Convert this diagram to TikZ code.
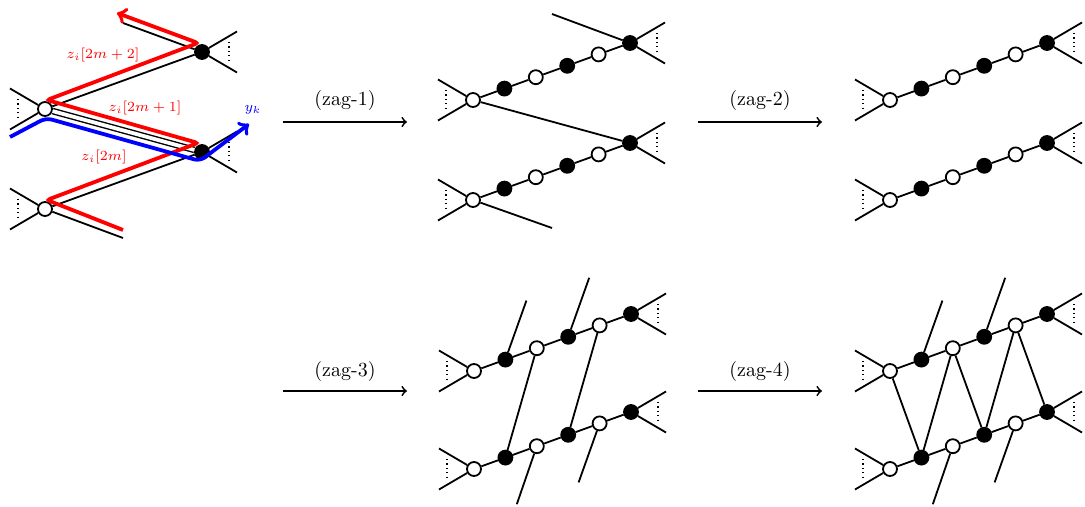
\documentclass[tikz,border=0pt]{standalone}
\usetikzlibrary{arrows}
\begin{document}
\begin{tikzpicture}[x=0.5pt,y=-0.5pt]
\tikzset{
  wv/.style={circle, draw, fill=white, line width=0.9pt, minimum size=7pt, inner sep=0pt},
  bv/.style={circle, draw, fill=black, line width=0.9pt, minimum size=7pt, inner sep=0pt},
  ln/.style={line width=0.9pt},
  dbl/.style={line width=0.7pt, double=white, double distance=1.9pt},
  dots/.style={line width=0.6pt, dash pattern=on 0.6pt off 1.6pt},
  redp/.style={red, line width=1.9pt, rounded corners=1.5pt},
  bluep/.style={blue, line width=1.9pt, rounded corners=3pt},
  lab/.style={font=\scriptsize, inner sep=1pt},
  stepar/.style={line width=0.9pt, ->},
}
\useasboundingbox (0,0) rectangle (1085,507);

% open end of a white vertex: two legs and a dotted bar
\newcommand\leftlegs[1]{%
  \path (#1) ++(-35,-20.5) coordinate (#1-la)
        (#1) ++(-35,20.5)  coordinate (#1-lb)
        (#1) ++(-27,-10)   coordinate (#1-da)
        (#1) ++(-27,8)     coordinate (#1-db);
  \draw[ln] (#1-la) -- (#1) -- (#1-lb);
  \draw[dots] (#1-da) -- (#1-db);
}
% open end of a black vertex
\newcommand\rightlegs[1]{%
  \path (#1) ++(35,-20.5) coordinate (#1-la)
        (#1) ++(35,20.5)  coordinate (#1-lb)
        (#1) ++(27,-10)   coordinate (#1-da)
        (#1) ++(27,8)     coordinate (#1-db);
  \draw[ln] (#1-la) -- (#1) -- (#1-lb);
  \draw[dots] (#1-da) -- (#1-db);
}
% a path of six alternating vertices, white first
\newcommand\zchain[3]{%
  \foreach \k in {0,...,5}{
    \ifodd\k
      \node[bv] (#1\k) at ({#2+31.4*\k},{#3-11.4*\k}) {};
    \else
      \node[wv] (#1\k) at ({#2+31.4*\k},{#3-11.4*\k}) {};
    \fi
  }
  \foreach \k [evaluate=\k as \j using int(\k+1)] in {0,...,4}
    \draw[ln] (#1\k) -- (#1\j);
  \leftlegs{#10}
  \rightlegs{#15}
}
% a free half-edge leaving a vertex
\newcommand\halfedge[4]{%
  \path (#1) ++(#2,#3) coordinate (#4);
  \draw[ln] (#1) -- (#4);
}

% ---------------- first panel: the zig-zag paths ----------------
\node[wv] (aw1) at (45,109) {};
\node[bv] (ab1) at (202,52) {};
\node[wv] (aw0) at (45,209) {};
\node[bv] (ab0) at (202,152) {};
\draw[ln] (aw1) -- (ab1);
\draw[dbl] (aw1) -- (ab0);
\draw[ln] (aw0) -- (ab0);
\halfedge{ab1}{-79}{-29}{ab1-ul}
\halfedge{aw0}{78}{29}{aw0-dr}
\leftlegs{aw1}
\leftlegs{aw0}
\rightlegs{ab1}
\rightlegs{ab0}

\draw[redp, ->] (123,230) -- (47,200) -- (198,143) -- (47,100) -- (198,43) -- (117,13);
\draw[bluep, ->] (10,137) -- (46,118) -- (200,161) -- (249,124);

\node[lab, red] (z2) at (103,55) {$z_i[2m+2]$};
\node[lab, red] (z1) at (145,108) {$z_i[2m+1]$};
\node[lab, red] (z0) at (104,157) {$z_i[2m]$};
\node[lab, blue] (yk) at (253,110) {$y_k$};

% ---------------- (zag-1) ----------------
\zchain{bt}{473}{100}
\zchain{bb}{473}{200}
\draw[ln] (bt0) -- (bb5);
\halfedge{bt5}{-78}{-29}{bt5-ul}
\halfedge{bb0}{79}{28}{bb0-dr}

% ---------------- (zag-2) ----------------
\zchain{ct}{890}{100}
\zchain{cb}{890}{200}

% ---------------- (zag-3) ----------------
\zchain{dt}{474}{371}
\zchain{db}{474}{469}
\halfedge{dt1}{21}{-59}{dt1-u}
\halfedge{dt3}{21}{-59}{dt3-u}
\halfedge{db2}{-20}{58}{db2-d}
\halfedge{db4}{-21}{59}{db4-d}
\draw[ln] (dt2) -- (db1);
\draw[ln] (dt4) -- (db3);

% ---------------- (zag-4) ----------------
\zchain{et}{890}{371}
\zchain{eb}{890}{469}
\halfedge{et1}{21}{-59}{et1-u}
\halfedge{et3}{21}{-59}{et3-u}
\halfedge{eb2}{-20}{58}{eb2-d}
\halfedge{eb4}{-21}{59}{eb4-d}
\draw[ln] (et0) -- (eb1) -- (et2) -- (eb3) -- (et4) -- (eb5);

% ---------------- step arrows ----------------
\coordinate (s1a) at (283,122); \coordinate (s1b) at (407,122);
\coordinate (s2a) at (698,122); \coordinate (s2b) at (822,122);
\coordinate (s3a) at (283,391); \coordinate (s3b) at (407,391);
\coordinate (s4a) at (698,391); \coordinate (s4b) at (822,391);
\draw[stepar] (s1a) -- (s1b);
\draw[stepar] (s2a) -- (s2b);
\draw[stepar] (s3a) -- (s3b);
\draw[stepar] (s4a) -- (s4b);
\node (g1) at (345,101) {(zag-1)};
\node (g2) at (760,101) {(zag-2)};
\node (g3) at (345,371) {(zag-3)};
\node (g4) at (760,371) {(zag-4)};
\end{tikzpicture}
\end{document}
